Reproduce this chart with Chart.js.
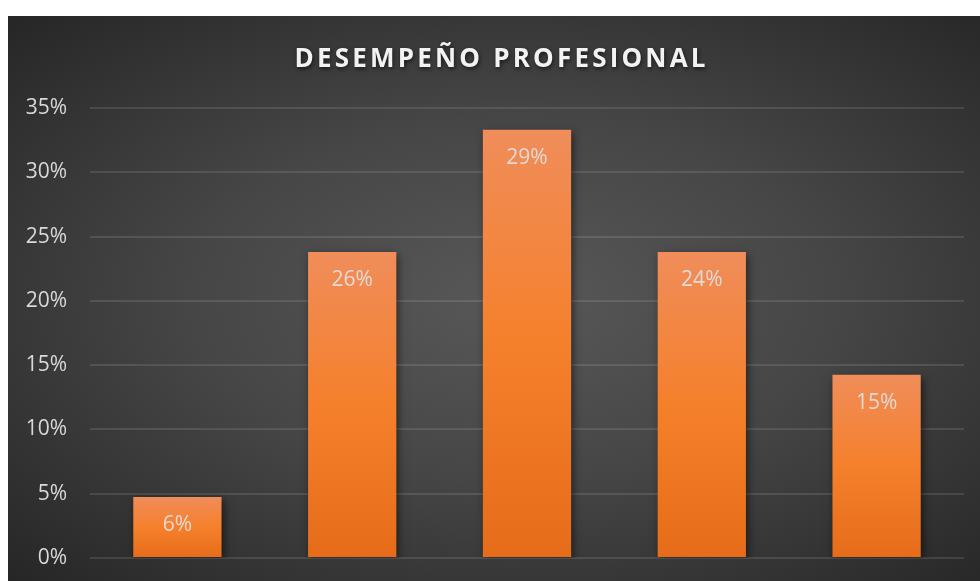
<!DOCTYPE html>
<html>
<head>
<meta charset="utf-8">
<script src="https://cdn.jsdelivr.net/npm/chart.js@4.4.1/dist/chart.umd.min.js"></script>
<style>
  html, body { margin: 0; padding: 0; background: #fff; }
  #wrap {
    position: absolute; left: 8px; top: 16px; width: 972px; height: 565px;
    background: radial-gradient(ellipse farthest-corner at 52% 50%, #585858 0%, #464646 45%, #262626 100%);
  }
  #chart { display: block; }
</style>
</head>
<body>
<div id="wrap"><canvas id="chart" width="972" height="565"></canvas></div>
<script>
// Data
const categories = ['A', 'B', 'C', 'D', 'E'];
const barValues = [4.75, 23.8, 33.3, 23.8, 14.25];
const barLabels = ['6%', '26%', '29%', '24%', '15%'];
const yTicks = [0, 5, 10, 15, 20, 25, 30, 35];
const chartTitle = 'DESEMPEÑO PROFESIONAL';

/* ============================================================
   PLUGINS - shadow, labels, title
   ============================================================ */
const barShadow = {
  id: 'barShadow',
  beforeDatasetsDraw(chart) {
    const ctx = chart.ctx;
    ctx.save();
    ctx.shadowColor = 'rgba(0,0,0,0.55)';
    ctx.shadowBlur = 8;
    ctx.shadowOffsetX = 2;
    ctx.shadowOffsetY = 3;
  },
  afterDatasetsDraw(chart) {
    chart.ctx.restore();
  }
};

const barText = {
  id: 'barText',
  afterDatasetsDraw(chart) {
    const ctx = chart.ctx;
    const meta = chart.getDatasetMeta(0);
    ctx.save();
    ctx.font = '21px "Open Sans"';
    ctx.fillStyle = 'rgba(225,225,225,0.92)';
    ctx.textAlign = 'center';
    ctx.textBaseline = 'middle';
    meta.data.forEach((bar, i) => {
      ctx.fillText(barLabels[i], bar.x, bar.y + 28);
    });
    ctx.restore();
  }
};

const spacedTitle = {
  id: 'spacedTitle',
  afterDraw(chart) {
    const ctx = chart.ctx;
    const spacing = 3.2;
    ctx.save();
    ctx.font = 'bold 26px "Open Sans"';
    ctx.fillStyle = '#f2f2f2';
    ctx.textBaseline = 'alphabetic';
    ctx.shadowColor = 'rgba(0,0,0,0.6)';
    ctx.shadowBlur = 4;
    ctx.shadowOffsetX = 1;
    ctx.shadowOffsetY = 2;
    const chars = chartTitle.split('');
    const widths = chars.map(ch => ctx.measureText(ch).width);
    const total = widths.reduce((a, b) => a + b, 0) + spacing * (chars.length - 1);
    let x = 492 - total / 2;
    chars.forEach((ch, i) => {
      ctx.fillText(ch, x, 51);
      x += widths[i] + spacing;
    });
    ctx.restore();
  }
};

/* ============================================================
   BAR CHART
   ============================================================ */
function barGradient(c) {
  const chart = c.chart;
  if (!chart.chartArea || c.raw === undefined) return '#f47f2b';
  const y = chart.scales.y;
  const top = y.getPixelForValue(c.raw);
  const bottom = y.getPixelForValue(0);
  const g = chart.ctx.createLinearGradient(0, top, 0, bottom);
  g.addColorStop(0, '#f08d5a');
  g.addColorStop(0.5, '#f5802b');
  g.addColorStop(1, '#e66c19');
  return g;
}

new Chart(document.getElementById('chart'), {
  type: 'bar',
  data: {
    labels: categories,
    datasets: [{
      data: barValues,
      backgroundColor: barGradient,
      borderWidth: 0,
      barPercentage: 1,
      categoryPercentage: 0.505
    }]
  },
  options: {
    responsive: false,
    animation: false,
    devicePixelRatio: 1,
    layout: { padding: { top: 92, right: 16, bottom: 23, left: 0 } },
    plugins: {
      legend: { display: false },
      title: { display: false },
      tooltip: { enabled: false }
    },
    scales: {
      x: {
        display: false
      },
      y: {
        min: 0,
        max: 35,
        afterFit: s => {
          s.width = 82;
          s.paddingTop = 0;
          s.paddingBottom = 0;
        },
        afterBuildTicks: s => { s.ticks = yTicks.map(v => ({ value: v })); },
        grid: { color: 'rgba(255,255,255,0.11)', lineWidth: 2, drawTicks: false },
        border: { display: false },
        ticks: {
          padding: 23,
          color: '#d9d9d9',
          font: { family: 'Open Sans', size: 21 },
          callback: v => v + '%'
        }
      }
    }
  },
  plugins: [barShadow, barText, spacedTitle]
});
</script>
</body>
</html>
